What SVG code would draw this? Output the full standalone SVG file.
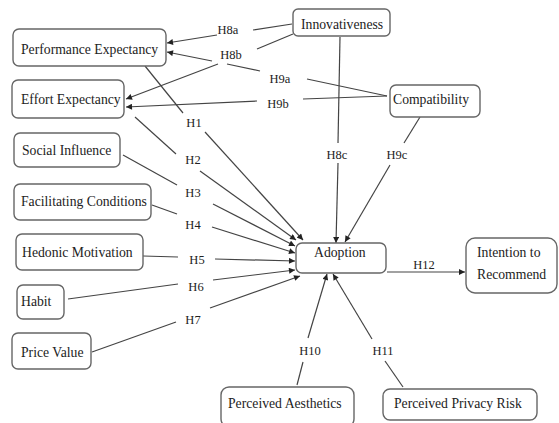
<svg xmlns="http://www.w3.org/2000/svg" width="559" height="423" viewBox="0 0 559 423">
<style>
.box{fill:#fff;stroke:#666;stroke-width:1.4}
.t{font-family:'Liberation Serif','DejaVu Serif',serif;font-size:13.7px;fill:#222}
.l{font-family:'Liberation Serif','DejaVu Serif',serif;font-size:12.5px;fill:#222;text-anchor:middle}
.c{fill:none;stroke:#444;stroke-width:1.2}
.a{marker-end:url(#arr)}
</style>
<defs>
<marker id="arr" viewBox="0 0 10 10" refX="10" refY="5" markerWidth="7" markerHeight="6" markerUnits="userSpaceOnUse" orient="auto">
<path d="M0,0 L10,5 L0,10 z" fill="#222"/>
</marker>
</defs>
<rect width="559" height="423" fill="#fff"/>
<g id="connectors">
<line class="c" x1="145" y1="66" x2="183" y2="113"/>
<line class="c a" x1="205" y1="132" x2="303" y2="240"/>
<text class="l" x="194" y="127">H1</text>
<line class="c" x1="135" y1="117" x2="176" y2="154"/>
<line class="c a" x1="200" y1="171" x2="296" y2="240"/>
<text class="l" x="193" y="164">H2</text>
<line class="c" x1="123" y1="155" x2="177" y2="185"/>
<line class="c a" x1="213" y1="204" x2="295" y2="246"/>
<text class="l" x="193" y="197">H3</text>
<line class="c" x1="152" y1="205" x2="177" y2="214"/>
<line class="c a" x1="212" y1="227" x2="295" y2="253"/>
<text class="l" x="193" y="229">H4</text>
<line class="c" x1="143" y1="256" x2="178" y2="257"/>
<line class="c a" x1="215" y1="259" x2="295" y2="261"/>
<text class="l" x="197" y="264">H5</text>
<line class="c" x1="68" y1="299" x2="178" y2="284"/>
<line class="c a" x1="213" y1="280" x2="295" y2="270"/>
<text class="l" x="196" y="291">H6</text>
<line class="c" x1="92" y1="352" x2="176" y2="322"/>
<line class="c a" x1="210" y1="308" x2="300" y2="276"/>
<text class="l" x="193" y="324">H7</text>
<line class="c" x1="292" y1="24" x2="253" y2="30"/>
<line class="c a" x1="217" y1="35" x2="167" y2="43"/>
<text class="l" x="228" y="34">H8a</text>
<line class="c" x1="293" y1="34" x2="257" y2="49"/>
<line class="c a" x1="218" y1="64" x2="126" y2="99"/>
<text class="l" x="231" y="59">H8b</text>
<line class="c" x1="387" y1="96" x2="307" y2="79"/>
<line class="c" x1="260" y1="71" x2="227" y2="64"/>
<line class="c a" x1="212" y1="61" x2="167" y2="52"/>
<text class="l" x="280" y="83">H9a</text>
<line class="c" x1="387" y1="96" x2="303" y2="99"/>
<line class="c a" x1="257" y1="101" x2="126" y2="107"/>
<text class="l" x="278" y="108">H9b</text>
<line class="c" x1="340" y1="37" x2="338" y2="143"/>
<line class="c a" x1="338" y1="163" x2="336" y2="243"/>
<text class="l" x="337" y="159">H8c</text>
<line class="c" x1="420" y1="117" x2="404" y2="143"/>
<line class="c a" x1="390" y1="165" x2="345" y2="242"/>
<text class="l" x="397" y="159">H9c</text>
<line class="c" x1="297" y1="385" x2="303" y2="362"/>
<line class="c a" x1="308" y1="338" x2="327" y2="274"/>
<text class="l" x="310" y="355">H10</text>
<line class="c" x1="403" y1="387" x2="385" y2="361"/>
<line class="c a" x1="372" y1="339" x2="333" y2="274"/>
<text class="l" x="383" y="355">H11</text>
<line class="c a" x1="387" y1="272" x2="465" y2="272"/>
<text class="l" x="424" y="269">H12</text>
</g>
<g id="pe"><rect class="box" x="13" y="29" width="153" height="37" rx="6"/><text class="t" x="21" y="54">Performance Expectancy</text></g>
<g id="ee"><rect class="box" x="12" y="80" width="112" height="38" rx="6"/><text class="t" x="21" y="104">Effort Expectancy</text></g>
<g id="si"><rect class="box" x="14" y="133" width="106" height="34" rx="6"/><text class="t" x="22" y="155">Social Influence</text></g>
<g id="fc"><rect class="box" x="14" y="184" width="137" height="36" rx="6"/><text class="t" x="21" y="206">Facilitating Conditions</text></g>
<g id="hm"><rect class="box" x="16" y="234" width="127" height="36" rx="6"/><text class="t" x="22" y="257">Hedonic Motivation</text></g>
<g id="habit"><rect class="box" x="17" y="285" width="47" height="34" rx="6"/><text class="t" x="21" y="306">Habit</text></g>
<g id="pv"><rect class="box" x="12" y="333" width="79" height="36" rx="6"/><text class="t" x="21" y="357">Price Value</text></g>
<g id="innov"><rect class="box" x="293" y="9" width="97" height="27" rx="5"/><text class="t" x="301" y="29">Innovativeness</text></g>
<g id="compat"><rect class="box" x="390" y="85" width="90" height="32" rx="6"/><text class="t" x="393" y="104">Compatibility</text></g>
<g id="adoption"><rect class="box" x="296" y="243" width="90" height="30" rx="6"/><text class="t" x="314" y="257">Adoption</text></g>
<g id="itr"><rect class="box" x="466" y="238" width="91" height="55" rx="9"/><text class="t" x="477" y="257">Intention to</text><text class="t" x="477" y="279">Recommend</text></g>
<g id="pa"><rect class="box" x="221" y="387" width="133" height="40" rx="8"/><text class="t" x="228" y="408">Perceived Aesthetics</text></g>
<g id="ppr"><rect class="box" x="383" y="389" width="154" height="31" rx="7"/><text class="t" x="394" y="408">Perceived Privacy Risk</text></g>
</svg>
